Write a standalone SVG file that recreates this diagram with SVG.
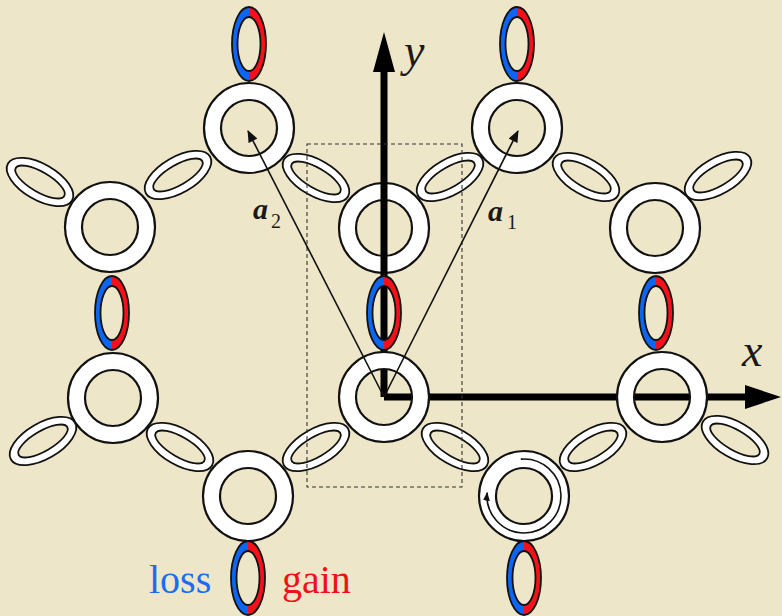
<svg xmlns="http://www.w3.org/2000/svg" xmlns:xlink="http://www.w3.org/1999/xlink" width="782" height="616" viewBox="0 0 782 616">
  <style>
    .ring { fill: #ffffff; stroke: #111111; stroke-width: 2.2; fill-rule: evenodd; }
    .halo { fill: #ffffff; stroke: #111111; stroke-width: 1.8; fill-rule: evenodd; }
    .edge { fill: none; stroke: #111111; stroke-width: 1.8; }
    .axis { stroke: #000000; stroke-width: 7; fill: none; }
    .vec { stroke: #111111; stroke-width: 1.6; fill: none; }
    .cell { fill: none; stroke: #333333; stroke-width: 1.1; stroke-dasharray: 4 3; }
    .lbl { font-family: "Liberation Serif", "Times New Roman", serif; fill: #1a1a1a; }
  </style>
  <defs>
    <!-- large white microring -->
    <path id="bigring" class="ring" d="M -45 0 A 45 45 0 1 0 45 0 A 45 45 0 1 0 -45 0 Z M -28 0 A 28 28 0 1 0 28 0 A 28 28 0 1 0 -28 0 Z"/>
    <!-- tilted link ring (unrotated) -->
    <path id="link" class="halo" d="M -37 0 A 37 18 0 1 0 37 0 A 37 18 0 1 0 -37 0 Z M -28 0 A 28 10 0 1 0 28 0 A 28 10 0 1 0 -28 0 Z"/>
    <!-- loss / gain ring: left half blue, right half red -->
    <g id="lossgain">
      <path d="M 0 -37 A 17 37 0 0 0 0 37 L 0 27 A 11.5 27 0 0 1 0 -27 Z" fill="#0c66f2"/>
      <path d="M 0 -37 A 17 37 0 0 1 0 37 L 0 27 A 11.5 27 0 0 0 0 -27 Z" fill="#f5101a"/>
      <ellipse rx="17" ry="37" class="edge"/>
      <ellipse rx="11.5" ry="27" class="edge"/>
    </g>
    <marker id="tip" viewBox="0 0 12 10" refX="11" refY="5" markerWidth="13" markerHeight="10" markerUnits="userSpaceOnUse" orient="auto">
      <path d="M 0 0 L 12 5 L 0 10 Z" fill="#111111"/>
    </marker>
    <marker id="tipsmall" viewBox="0 0 8 6" refX="7" refY="3" markerWidth="9" markerHeight="7" markerUnits="userSpaceOnUse" orient="auto">
      <path d="M 0 0 L 8 3 L 0 6 Z" fill="#111111"/>
    </marker>
  </defs>

  <rect width="782" height="616" fill="#eee6c8"/>

  <!-- link rings between the site rings -->
  <g id="links">
    <use xlink:href="#link" transform="translate(40,182) rotate(30)"/>
    <use xlink:href="#link" transform="translate(178,175) rotate(-30)"/>
    <use xlink:href="#link" transform="translate(316,178) rotate(30)"/>
    <use xlink:href="#link" transform="translate(450,177) rotate(-30)"/>
    <use xlink:href="#link" transform="translate(586,177) rotate(30)"/>
    <use xlink:href="#link" transform="translate(718,176) rotate(-30)"/>
    <use xlink:href="#link" transform="translate(43,441) rotate(-30)"/>
    <use xlink:href="#link" transform="translate(180,447) rotate(30)"/>
    <use xlink:href="#link" transform="translate(316,447) rotate(-30)"/>
    <use xlink:href="#link" transform="translate(455,447) rotate(30)"/>
    <use xlink:href="#link" transform="translate(593,447) rotate(-30)"/>
    <use xlink:href="#link" transform="translate(735,440) rotate(30)"/>
  </g>

  <!-- upper site rings -->
  <g id="ring-top-left"><use xlink:href="#bigring" x="249" y="128"/></g>
  <g id="ring-top-right"><use xlink:href="#bigring" x="517" y="128"/></g>
  <g id="ring-left-upper"><use xlink:href="#bigring" x="110" y="227"/></g>
  <g id="ring-center-upper"><use xlink:href="#bigring" x="384" y="228"/></g>
  <g id="ring-right-upper"><use xlink:href="#bigring" x="655" y="228"/></g>

  <!-- coordinate axes -->
  <g id="axes">
    <line class="axis" x1="384" y1="397" x2="384" y2="70"/>
    <polygon points="384,32 373,72 395,72" fill="#000"/>
    <line class="axis" x1="384" y1="397" x2="747" y2="397"/>
    <polygon points="781,397 745,385 745,409" fill="#000"/>
  </g>

  <!-- lower site rings -->
  <g id="ring-left-lower"><use xlink:href="#bigring" x="113" y="398"/></g>
  <g id="ring-center-lower"><use xlink:href="#bigring" x="384" y="397"/></g>
  <g id="ring-right-lower"><use xlink:href="#bigring" x="662" y="397"/></g>
  <g id="ring-bottom-left"><use xlink:href="#bigring" x="248" y="496"/></g>
  <g id="ring-bottom-right">
    <use xlink:href="#bigring" x="524" y="496"/>
    <path class="vec" d="M 520.8 459.1 A 37 37 0 1 1 487.1 492.8" stroke-width="1.3" marker-end="url(#tipsmall)"/>
  </g>

  <!-- loss/gain rings -->
  <g id="lg-top-left"><use xlink:href="#lossgain" transform="translate(249,44)"/></g>
  <g id="lg-top-right"><use xlink:href="#lossgain" transform="translate(517,44)"/></g>
  <g id="lg-left"><use xlink:href="#lossgain" transform="translate(112,313)"/></g>
  <g id="lg-center"><use xlink:href="#lossgain" transform="translate(384,313)"/></g>
  <g id="lg-right"><use xlink:href="#lossgain" transform="translate(656,313)"/></g>
  <g id="lg-bottom-left"><use xlink:href="#lossgain" transform="translate(248,578)"/></g>
  <g id="lg-bottom-right"><use xlink:href="#lossgain" transform="translate(524,578)"/></g>

  <!-- unit cell and lattice vectors -->
  <g id="connectors">
    <rect class="cell" x="307" y="144" width="155" height="343"/>
    <line class="vec" x1="384" y1="397" x2="248" y2="131" marker-end="url(#tip)"/>
    <line class="vec" x1="384" y1="397" x2="518" y2="131" marker-end="url(#tip)"/>
  </g>

  <!-- labels -->
  <g id="labels">
    <text class="lbl" x="404" y="66" font-size="46" font-style="italic">y</text>
    <text class="lbl" x="742" y="366" font-size="46" font-style="italic">x</text>
    <text class="lbl" x="253" y="219" font-size="30" font-style="italic" font-weight="bold">a</text>
    <text class="lbl" x="271" y="228" font-size="20">2</text>
    <text class="lbl" x="488" y="221" font-size="30" font-style="italic" font-weight="bold">a</text>
    <text class="lbl" x="507" y="229" font-size="20">1</text>
    <text x="149" y="593" font-family="'Liberation Serif', 'Times New Roman', serif" font-size="40" fill="#1a6cf5">loss</text>
    <text x="282" y="593" font-family="'Liberation Serif', 'Times New Roman', serif" font-size="40" fill="#f01018">gain</text>
  </g>
</svg>
